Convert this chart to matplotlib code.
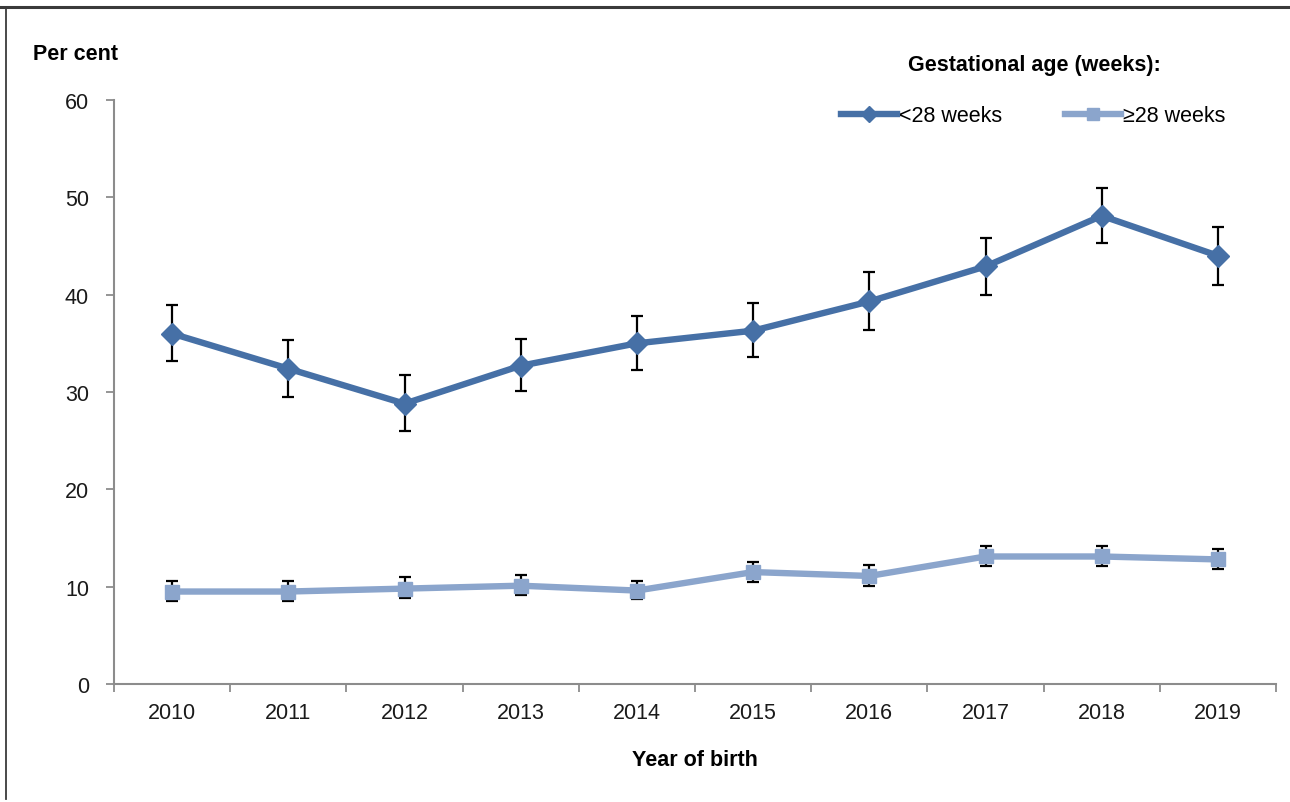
import matplotlib
matplotlib.use('Agg')
import matplotlib.pyplot as plt
from matplotlib.lines import Line2D

plt.rcParams['font.family'] = ['Liberation Sans', 'DejaVu Sans']

# Datos: porcentaje por año de nacimiento y edad gestacional, con intervalos
years = ['2010', '2011', '2012', '2013', '2014', '2015', '2016', '2017', '2018', '2019']

under28 = [36.0, 32.4, 28.8, 32.7, 35.0, 36.3, 39.3, 42.9, 48.1, 44.0]
under28_low = [33.2, 29.5, 26.0, 30.1, 32.3, 33.6, 36.4, 40.0, 45.3, 41.0]
under28_high = [38.9, 35.3, 31.7, 35.4, 37.8, 39.1, 42.3, 45.8, 51.0, 47.0]

over28 = [9.5, 9.5, 9.8, 10.1, 9.6, 11.5, 11.1, 13.1, 13.1, 12.8]
over28_low = [8.5, 8.5, 8.8, 9.1, 8.7, 10.5, 10.1, 12.1, 12.1, 11.8]
over28_high = [10.6, 10.6, 11.0, 11.2, 10.6, 12.5, 12.2, 14.2, 14.2, 13.9]

c_dark = '#4670a6'
c_light = '#8ba5cc'
gris = '#8c8c8c'
fs = 15.5

fig = plt.figure(figsize=(12.9, 8.03), dpi=100)
ax = fig.add_axes([114 / 1290, 1 - 685 / 803, (1276 - 114) / 1290, (685 - 101) / 803])

x = list(range(len(years)))

def barras(vals, lo, hi):
    err = [[v - l for v, l in zip(vals, lo)], [h - v for v, h in zip(vals, hi)]]
    ax.errorbar(x, vals, yerr=err, fmt='none', ecolor='black', elinewidth=1.6,
                capsize=4.5, capthick=1.6, zorder=2)

barras(under28, under28_low, under28_high)
barras(over28, over28_low, over28_high)

ax.plot(x, under28, color=c_dark, lw=4.6, marker='D', markersize=11.5,
        label='<28 weeks', zorder=3, solid_joinstyle='round')
ax.plot(x, over28, color=c_light, lw=4.6, marker='s', markersize=10,
        label='\u226528 weeks', zorder=3, solid_joinstyle='round')

ax.set_xlim(-0.5, len(years) - 0.5)
ax.set_ylim(0, 60)
ax.set_yticks(range(0, 61, 10))
ax.set_xticks(x)
ax.set_xticklabels(years)
ax.set_xticks([i - 0.5 for i in range(len(years) + 1)], minor=True)

for s in ['top', 'right']:
    ax.spines[s].set_visible(False)
for s in ['left', 'bottom']:
    ax.spines[s].set_color(gris)
    ax.spines[s].set_linewidth(1.5)

ax.tick_params(axis='y', direction='out', length=6, width=1.3, color=gris,
               labelsize=fs, pad=12, labelcolor='#1a1a1a')
ax.tick_params(axis='x', which='major', length=0, labelsize=fs, pad=13,
               labelcolor='#1a1a1a')
ax.tick_params(axis='x', which='minor', direction='out', length=6, width=1.3,
               color=gris)

ax.set_xlabel('Year of birth', fontsize=fs, fontweight='bold', labelpad=19)
fig.text(33 / 1290, 1 - 54 / 803, 'Per cent', fontsize=fs, fontweight='bold',
         ha='left', va='center')
fig.text(1034 / 1290, 1 - 65 / 803, 'Gestational age (weeks):', fontsize=fs,
         fontweight='bold', ha='center', va='center')

leg = ax.legend(loc='center', bbox_to_anchor=(1033 / 1290, 1 - 117 / 803),
                bbox_transform=fig.transFigure, ncol=2, frameon=False,
                fontsize=fs, handlelength=2.6, handletextpad=0.1,
                columnspacing=2.9, borderpad=0)
for h in leg.legend_handles:
    h.set_markersize(8)

# marco de la figura (superior e izquierdo)
fig.add_artist(Line2D([0, 1], [1 - 7.5 / 803] * 2, transform=fig.transFigure,
                      color='#3a3a3a', lw=2.2))
fig.add_artist(Line2D([5.5 / 1290] * 2, [1 - 7.5 / 803, 0.004], transform=fig.transFigure,
                      color='#3a3a3a', lw=1.3))

fig.savefig('out.png', dpi=100)
